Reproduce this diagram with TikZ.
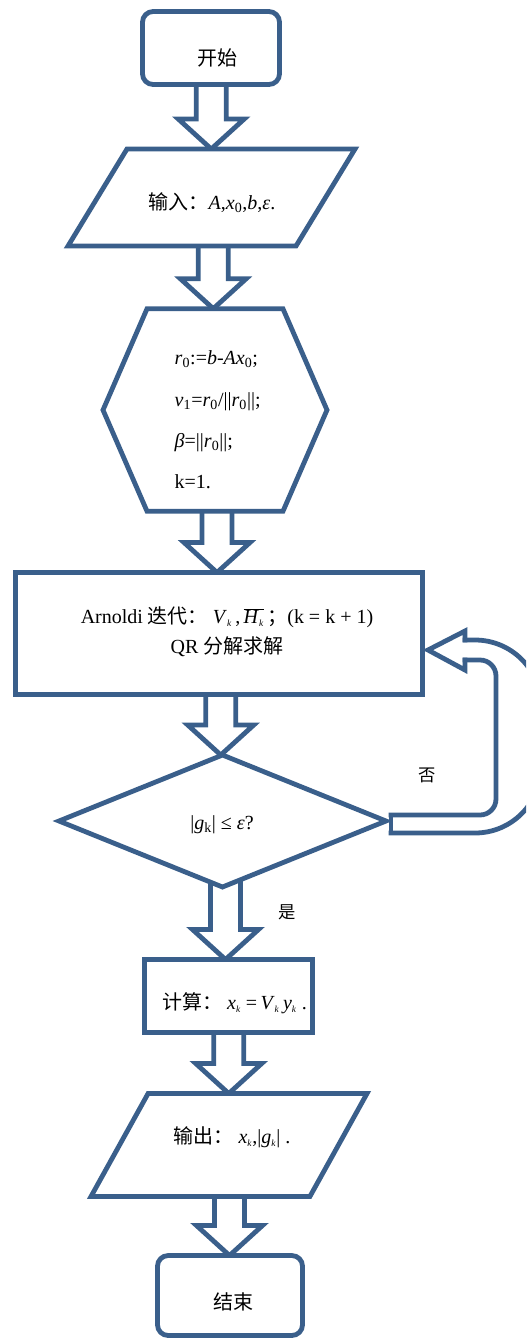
\documentclass[tikz,border=0pt]{standalone}
\usepackage{fontspec}
\setmainfont{Liberation Serif}
\newfontfamily\cjk{Noto Sans CJK SC}
\usetikzlibrary{calc,shapes.geometric,shapes.symbols}

\definecolor{flowblue}{HTML}{3A5F8B}

\pgfdeclarelayer{back}
\pgfsetlayers{back,main}

\tikzset{
  flowshape/.style={draw=flowblue, line width=3.6pt, fill=white, inner sep=2pt, outer sep=0pt},
  termbox/.style={flowshape, rectangle, rounded corners=8pt},
  procbox/.style={flowshape, rectangle},
  iobox/.style={flowshape, trapezium, trapezium stretches body=true},
  prepbox/.style={flowshape, signal, signal to=east and west, signal pointer angle=133},
  decbox/.style={flowshape, diamond},
  blockline/.style={draw=flowblue, line width=3.6pt},
}

% hollow block arrow from the centre of #1 down to the top of #2
\newcommand{\blockarrow}[2]{%
  \draw[blockline] let \p1=(#1.center), \p2=(#2.north), \p3=(#2.center),
      \n1={0.5*\x1+0.5*\x3} in
    (\n1-11.25pt,\y1) -- (\n1-11.25pt,\y2+22.5pt) -- (\n1-24.75pt,\y2+22.5pt)
    -- (\n1,\y2) -- (\n1+24.75pt,\y2+22.5pt) -- (\n1+11.25pt,\y2+22.5pt)
    -- (\n1+11.25pt,\y1);}

\newcommand{\subk}{\textsubscript{\fontsize{7pt}{7pt}\selectfont\textit{k}}}

\begin{document}
\begin{tikzpicture}[x=0.75pt,y=-0.75pt,font=\fontsize{15pt}{18pt}\selectfont]
\useasboundingbox (0,0) rectangle (526,1340);
\clip (0,0) rectangle (526,1340);

% shapes
\node (start) [termbox, minimum width=102.75pt, minimum height=54.75pt] at (211,48) {};
\node (input) [iobox, trapezium left angle=58.7, trapezium right angle=121.3,
  inner ysep=36.375pt, minimum width=215.25pt] at (211.5,197.5) {};
\node (init) [prepbox, minimum width=168pt, minimum height=152pt] at (215,410) {};
\node (arn) [procbox, minimum width=305.25pt, minimum height=91.5pt] at (219,633.5) {};
\node (dec) [decbox, minimum width=245.25pt, minimum height=99pt] at (222.5,821) {};
\node (comp) [procbox, minimum width=126pt, minimum height=54.75pt] at (228.5,996) {};
\node (output) [iobox, trapezium left angle=61, trapezium right angle=119,
  inner ysep=38.625pt, minimum width=207pt] at (229,1145) {};
\node (stop) [termbox, minimum width=108.75pt, minimum height=60pt] at (230,1295.5) {};

% texts
\node (starttext) at (217,58) {\cjk 开始};
\node (inputtext) at (212,203) {{\cjk 输入：}\textit{A},\textit{x}\textsubscript{0},\textit{b},\textit{ε}.};
\node (inittext) [anchor=west, align=left, font=\fontsize{15pt}{31pt}\selectfont] at (170,420)
  {\textit{r}\textsubscript{0}:=\textit{b}-\textit{Ax}\textsubscript{0};\\
   \textit{v}\textsubscript{1}=\textit{r}\textsubscript{0}/||\textit{r}\textsubscript{0}||;\\
   \textit{β}=||\textit{r}\textsubscript{0}||;\\
   k=1.};
\node (arntext) [align=center, font=\fontsize{15pt}{22.5pt}\selectfont] at (227,632)
  {Arnoldi {\cjk 迭代：}\ \textit{V}\subk\,,\,$\overline{\hbox{\textit{H}\subk}}$\,{\cjk ；}(k = k + 1)\\
   QR {\cjk 分解求解}};
\node (dectext) at (222,825) {|\textit{g}\textsubscript{k}| ≤ \textit{ε}?};
\node (notext) [font=\fontsize{13pt}{15pt}\selectfont] at (427,775) {\cjk 否};
\node (yestext) [font=\fontsize{13pt}{15pt}\selectfont] at (287,912) {\cjk 是};
\node (comptext) at (234.5,1003) {{\cjk 计算：}\ \textit{x}\subk\ =\,\textit{V}\subk\,\textit{y}\subk\ .};
\node (outputtext) at (232,1137) {{\cjk 输出：}\ \textit{x}\subk,|\textit{g}\subk|\ .};
\node (stoptext) at (233.5,1302) {\cjk 结束};

% arrows down the chain
\begin{pgfonlayer}{back}
\blockarrow{start}{input}
\blockarrow{input}{init}
\blockarrow{init}{arn}
\blockarrow{arn}{dec}
\blockarrow{dec}{comp}
\blockarrow{comp}{output}
\blockarrow{output}{stop}
\end{pgfonlayer}

% loop back from the test to the Arnoldi step
\coordinate (looptip) at ($(arn.east)+(5.5,16.5)$);
\coordinate (looptail) at ($(dec.east)+(5,3)$);
\draw[blockline, line cap=rect, rounded corners=12pt] ($(looptail)+(0,-9)$) -- ($(looptail)+(105,-9)$)
  -- ($(looptip)+(68,10)$) -- ($(looptip)+(37,10)$);
\draw[blockline, line cap=rect, rounded corners=49.5pt] ($(looptip)+(37,-10)$) -- ($(looptip)+(113,-10)$)
  -- ($(looptail)+(150,9)$) -- ($(looptail)+(0,9)$);
\draw[blockline, line cap=rect] ($(looptip)+(37,10)$) -- ($(looptip)+(37,20)$) -- (looptip)
  -- ($(looptip)+(37,-19)$) -- ($(looptip)+(37,-10)$);
\draw[blockline, line cap=rect] ($(looptail)+(0,-9)$) -- ($(looptail)+(0,9)$);

\end{tikzpicture}
\end{document}
